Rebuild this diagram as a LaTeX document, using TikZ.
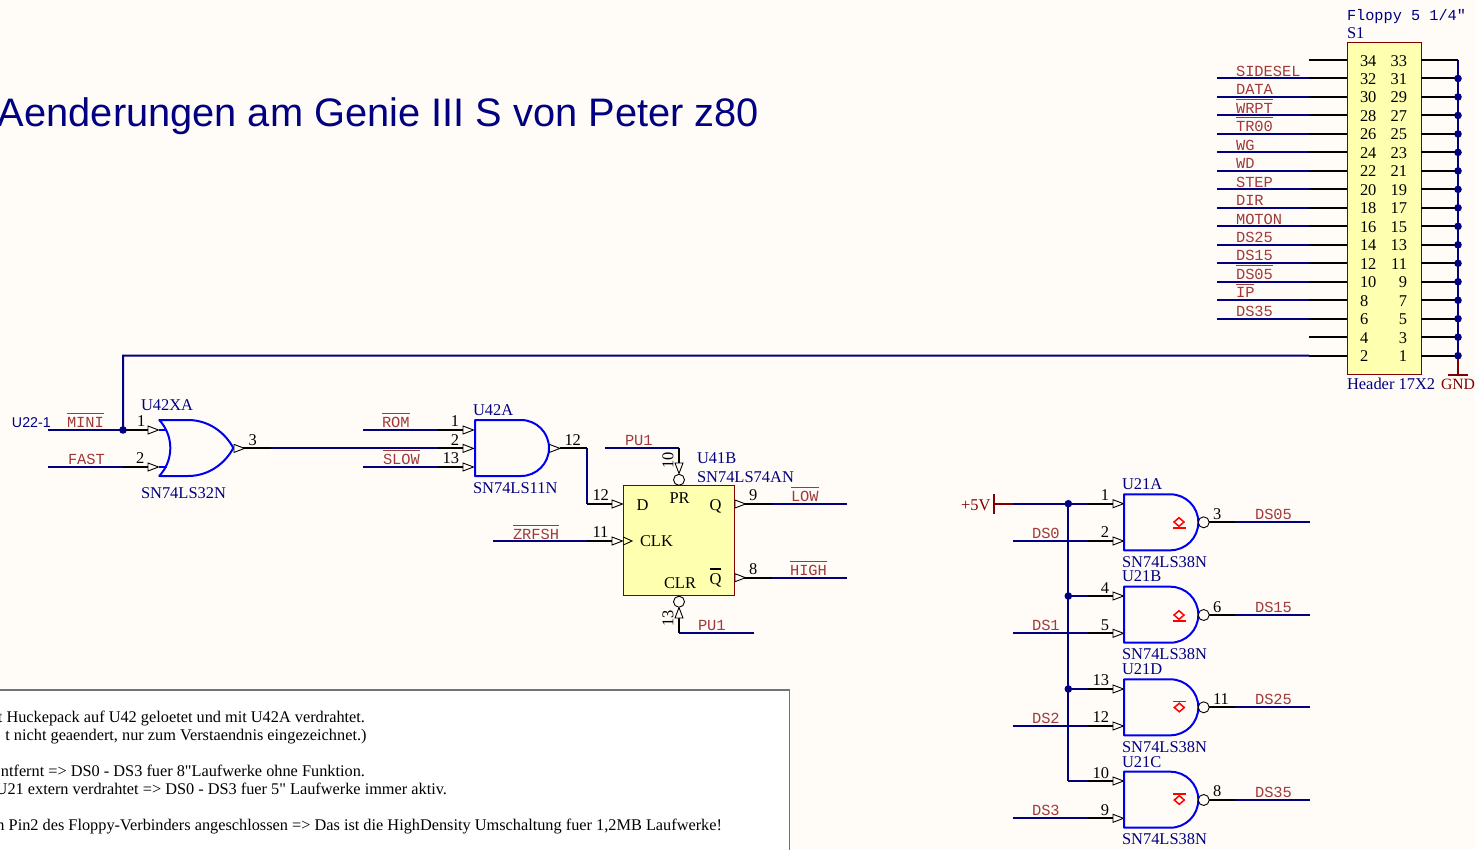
\documentclass[tikz,border=0pt]{standalone}
\usepackage{fontspec}
\setmainfont{Liberation Serif}[Ligatures=TeXOff]
\setsansfont{Liberation Sans}
\setmonofont{Liberation Mono}
\definecolor{bgc}{HTML}{FFFCF8}
\definecolor{wirec}{HTML}{000080}
\definecolor{gatec}{HTML}{0000F0}
\definecolor{netc}{HTML}{A03A3A}
\definecolor{pwrc}{HTML}{800000}
\definecolor{boxc}{HTML}{FFFFB0}
\newcommand\ovb[2][3]{\leavevmode\vbox{\hrule height 1.2pt\kern#1pt\hbox{#2}}}
\tikzset{
  wire/.style={draw=wirec,line width=2pt},
  pinline/.style={draw=black,line width=2pt},
  gateline/.style={draw=gatec,line width=2pt,line join=round},
  pwrline/.style={draw=pwrc,line width=2pt},
  tri/.style={draw=black,fill=bgc,line width=.9pt,line join=miter},
  dot/.style={fill=wirec},
  txt/.style={inner sep=0pt,outer sep=0pt,anchor=base west,font=\fontsize{16.45}{16}\selectfont},
  ser/.style={txt},
  serr/.style={txt,anchor=base east},
  cmp/.style={txt,text=wirec},
  net/.style={txt,text=netc,font=\fontsize{15.4}{15}\ttfamily},
  rotnum/.style={txt,anchor=center,rotate=90},
  comp/.style={draw=pwrc,fill=boxc,line width=.9pt,inner sep=0pt,rectangle},
  oc/.style={draw=red,line width=1.5pt},
  bubble/.style={draw=black,fill=bgc,line width=.9pt},
  note/.style={txt,anchor=base east,font=\fontsize{16.3}{16}\selectfont},
}
% navy net, black pin stub, triangle entering a symbol
\newcommand\netin[5]{%
  \coordinate (#1-a) at (#2,#5);\coordinate (#1-b) at (#3,#5);\coordinate (#1-c) at (#4,#5);
  \draw[wire] (#1-a) -- (#1-b);\draw[pinline] (#1-b) -- (#1-c);
  \draw[tri,shift={(#1-c)}] (0,-4) -- (10.5,0) -- (0,4) -- cycle;}
% triangle leaving a symbol, black pin stub, navy net
\newcommand\netout[5]{%
  \coordinate (#1-a) at (#2,#5);\coordinate (#1-b) at (#3,#5);\coordinate (#1-c) at (#4,#5);
  \draw[pinline] (#1-a) -- (#1-b);\draw[wire] (#1-b) -- (#1-c);
  \draw[tri,fill=bgc,shift={(#1-a)}] (0,-4) -- (10.5,0) -- (0,4) -- cycle;}
% AND outline: left, top, width
\newcommand\andg[3]{%
  \pgfmathsetmacro\xs{#1+#3-28}\pgfmathsetmacro\xr{#1+#3}\pgfmathsetmacro\xc{\xs+15.5}
  \pgfmathsetmacro\ym{#2+28}\pgfmathsetmacro\ya{#2+12.5}\pgfmathsetmacro\yb{#2+43.5}\pgfmathsetmacro\yc{#2+56}
  \draw[gateline] (\xs,#2) -- (#1,#2) -- (#1,\yc) -- (\xs,\yc) .. controls (\xc,\yc) and (\xr,\yb) .. (\xr,\ym) .. controls (\xr,\ya) and (\xc,#2) .. (\xs,#2) -- cycle;}
\newcommand\ocsym[3]{% x, diamond centre y, bar y
  \draw[oc] (#1-5,#2) -- (#1,#2-4.3) -- (#1+5,#2) -- (#1,#2+4.3) -- cycle;
  \draw[oc] (#1-6.5,#3) -- (#1+6.5,#3);}
\begin{document}
\begin{tikzpicture}[x=1pt,y=-1pt]
\useasboundingbox (0,0) rectangle (1475,849);
\clip (0,0) rectangle (1475,849);
\fill[bgc] (0,0) rectangle (1475,849);

% title
\node[txt,text=wirec,font=\fontsize{39.8}{40}\sffamily] (title) at (-2,126.5) {Aenderungen am Genie III S von Peter z80};

% note box
\node[draw=black!55,fill=white,line width=1.5pt,inner sep=0pt,minimum width=805,minimum height=180,anchor=north east] (notebox) at (790,689) {};
\node[note] (note1) at (365,722) {t Huckepack auf U42 geloetet und mit U42A verdrahtet.};
\node[note] (note2) at (366.5,740) {t nicht geaendert, nur zum Verstaendnis eingezeichnet.)};
\node[note] (note3) at (365,776) {ntfernt => DS0 - DS3 fuer 8"Laufwerke ohne Funktion.};
\node[note] (note4) at (447,794) {U21 extern verdrahtet => DS0 - DS3 fuer 5" Laufwerke immer aktiv.};
\node[note] (note5) at (722,830) {n Pin2 des Floppy-Verbinders angeschlossen => Das ist die HighDensity Umschaltung fuer 1,2MB Laufwerke!};

% ---------- header S1
\node[comp,minimum width=74,minimum height=332] (S1) at (1384,208) {};
\coordinate (gndtop) at (1458,60);
\coordinate (gndbus) at (1458,355.7);
\coordinate (gnd) at (1458,374.5);
\coordinate (gndl) at (1448,374.5);
\coordinate (gndr) at (1468,374.5);
\draw[wire] (gndtop) -- (gndbus);
\draw[pwrline] (gndbus) -- (gnd);
\draw[pwrline] (gndl) -- (gndr);
\foreach \k/\l/\r in {0/34/33,1/32/31,2/30/29,3/28/27,4/26/25,5/24/23,6/22/21,7/20/19,8/18/17,9/16/15,10/14/13,11/12/11,12/10/9,13/8/7,14/6/5,15/4/3,16/2/1}{
  \pgfmathsetmacro\yy{60+18.48*\k}
  \pgfmathsetmacro\yb{\yy+6}
  \coordinate (hl\k) at (1309,\yy);
  \coordinate (hs\k) at (1347,\yy);
  \coordinate (hr\k) at (1421,\yy);
  \coordinate (hb\k) at (1458,\yy);
  \draw[pinline] (hl\k) -- (hs\k);
  \draw[pinline] (hr\k) -- (hb\k);
  \node[ser] (pl\k) at (1360,\yb) {\l};
  \node[serr] (pr\k) at (1407,\yb) {\r};
  \ifnum\k>0 \fill[dot] (hb\k) circle[radius=3.8];\fi
}
\foreach \k/\t in {1/SIDESEL,2/DATA,3/\ovb{WRPT},4/\ovb{TR00},5/WG,6/WD,7/STEP,8/DIR,9/MOTON,10/DS25,11/DS15,12/\ovb{DS05},13/\ovb{IP},14/DS35}{
  \pgfmathsetmacro\yy{60+18.48*\k}
  \pgfmathsetmacro\yb{\yy-2.3}
  \coordinate (he\k) at (1217,\yy);
  \draw[wire] (he\k) -- (hl\k);
  \node[net] (hn\k) at (1236,\yb) {\t};
}
\node[txt,text=wirec,font=\fontsize{15.25}{15}\ttfamily] (floppy) at (1347,20.5) {Floppy 5 1/4"};
\node[cmp] (S1name) at (1347,38) {S1};
\node[cmp] (S1type) at (1347,389) {Header 17X2};
\node[txt,text=pwrc,font=\fontsize{15.7}{16}\selectfont] (gndname) at (1441,389) {GND};

% ---------- U42XA
\netin{mini}{48}{123}{148}{430}
\netin{fast}{48}{123}{148}{467}
\coordinate (minijoin) at (123,430);
\coordinate (minicorner) at (123,355.7);
\draw[wire] (minijoin) -- (minicorner) -- (hl16);
\fill[dot] (minijoin) circle[radius=3.8];
\draw[gateline] (158.5,430) -- (167,430);
\draw[gateline] (158.5,467) -- (167,467);
\draw[gateline] (159.3,420) -- (188,420) .. controls (210,420) and (226,434) .. (233.3,448) .. controls (226,462) and (210,476) .. (188,476) -- (159.3,476) .. controls (174,460) and (174,436) .. (159.3,420) -- cycle;
\node[txt,text=wirec,font=\fontsize{14.2}{15}\sffamily] (u22) at (12,427) {U22-1};
\node[net] (minil) at (67,427.5) {\ovb{MINI}};
\node[net] (fastl) at (68,464.5) {FAST};
\node[cmp] (u42xa) at (141,410) {U42XA};
\node[cmp] (u42xat) at (141,498) {SN74LS32N};
\node[ser] (n1a) at (137,426) {1};
\node[ser] (n2a) at (136,463) {2};
\node[ser] (n3a) at (248.5,445) {3};

% ---------- U42A
\netout{q42}{234}{271}{438}{448.4}
\coordinate (q42end) at (438,448.4);
\coordinate (u42in2) at (463,448.4);
\draw[pinline] (q42end) -- (u42in2);
\draw[tri,shift={(u42in2)}] (0,-4) -- (10.5,0) -- (0,4) -- cycle;
\netin{rom}{363}{438}{463}{430}
\netin{slow}{363}{438}{463}{467}
\andg{475}{420}{74}
\node[net] (roml) at (382,427) {\ovb{ROM}};
\node[net] (slowl) at (383,464) {\ovb{SLOW}};
\node[cmp] (u42a) at (473,415) {U42A};
\node[cmp] (u42at) at (473,493) {SN74LS11N};
\node[serr] (n1b) at (459,426) {1};
\node[serr] (n2b) at (459,445) {2};
\node[serr] (n13b) at (459,463) {13};
\node[ser] (n12b) at (564.5,445) {12};

% ---------- U41B flip-flop
\node[comp,minimum width=111,minimum height=110] (U41B) at (678.8,540.7) {};
\coordinate (o42a) at (560,448.4);
\coordinate (o42b) at (586.5,448.4);
\coordinate (d42a) at (586.5,504);
\coordinate (d42b) at (612,504);
\draw[wire] (o42b) -- (d42a);
\draw[pinline] (o42a) -- (o42b);
\draw[tri,shift={(549.5,448.4)}] (0,-4) -- (10.5,0) -- (0,4) -- cycle;
\draw[pinline] (d42a) -- (d42b);
\draw[tri,shift={(d42b)}] (0,-4) -- (10.5,0) -- (0,4) -- cycle;
\netin{zrfsh}{493}{587}{612}{541}
\draw[draw=black,line width=.9pt] (623.3,537) -- (632,541) -- (623.3,545);
\netout{low}{735}{771.5}{847}{504}
\netout{high}{735}{771.5}{847}{577.7}
% PU1 top
\coordinate (pu1a) at (605,448.3);
\coordinate (pu1b) at (679,448.3);
\coordinate (pu1c) at (679,463);
\draw[wire] (pu1a) -- (pu1b);
\draw[pinline] (pu1b) -- (pu1c);
\draw[tri,shift={(pu1c)}] (-4,0) -- (0,10.5) -- (4,0) -- cycle;
\draw[bubble] (679,479.8) circle[radius=5.5];
% PU1 bottom
\coordinate (pu2a) at (754,632.7);
\coordinate (pu2b) at (679,632.7);
\coordinate (pu2c) at (679,618);
\draw[wire] (pu2a) -- (pu2b);
\draw[pinline] (pu2b) -- (pu2c);
\draw[tri,shift={(pu2c)}] (-4,0) -- (0,-10.5) -- (4,0) -- cycle;
\draw[bubble] (679,601.7) circle[radius=5.5];
\node[net] (pu1l) at (625,445.5) {PU1};
\node[net] (pu2l) at (698,630) {PU1};
\node[net] (zrfshl) at (513,539) {\ovb{ZRFSH}};
\node[net] (lowl) at (791,501) {\ovb{LOW}};
\node[net] (highl) at (790,575) {\ovb{HIGH}};
\node[cmp] (u41b) at (697,463) {U41B};
\node[cmp] (u41bt) at (697,482) {SN74LS74AN};
\node[rotnum] (n10c) at (668,460.5) {10};
\node[rotnum] (n13c) at (668,618) {13};
\node[ser] (n12c) at (592.5,500) {12};
\node[ser] (n11c) at (592.5,537) {11};
\node[ser] (n9c) at (749,500) {9};
\node[ser] (n8c) at (749,574) {8};
\node[ser] (pinD) at (636.5,510) {D};
\node[ser] (pinPR) at (669.5,503) {PR};
\node[ser] (pinQ) at (709.5,510) {Q};
\node[ser] (pinCLK) at (640,546.5) {CLK};
\node[ser] (pinCLR) at (664,588.5) {CLR};
\node[ser] (pinQb) at (709.5,584) {\ovb[3.5]{Q}};

% ---------- U21 supply
\coordinate (vbar1) at (994.3,494);
\coordinate (vbar2) at (994.3,514);
\coordinate (vp) at (994.3,503.7);
\coordinate (vw) at (1013,503.7);
\coordinate (busT) at (1068.3,503.7);
\coordinate (busB) at (1068.3,781);
\coordinate (busD) at (1068.3,689);
\coordinate (busC) at (1068.3,596);
\draw[pwrline] (vbar1) -- (vbar2);
\draw[pwrline] (vp) -- (vw);
\draw[wire] (busT) -- (busB);
\netin{ua1}{1013}{1088}{1113}{503.7}
\netin{ua2}{1013}{1088}{1113}{541}
\netin{ub1}{1068.3}{1088}{1113}{596}
\netin{ub2}{1013}{1088}{1113}{633.3}
\netin{ud1}{1068.3}{1088}{1113}{689}
\netin{ud2}{1013}{1088}{1113}{726}
\netin{uc1}{1068.3}{1088}{1113}{781}
\netin{uc2}{1013}{1088}{1113}{818.3}
\fill[dot] (busT) circle[radius=3.8];
\fill[dot] (busC) circle[radius=3.8];
\fill[dot] (busD) circle[radius=3.8];
\node[txt,text=pwrc] (vcc) at (961,510) {+5V};

% gates
\andg{1124}{494.3}{74.3}
\andg{1124}{586.7}{74.3}
\andg{1124}{679.3}{74.3}
\andg{1124}{771.7}{74.3}
\ocsym{1179}{522}{528}
\ocsym{1179}{615}{621}
\ocsym{1179.3}{707.5}{701.7}
\ocsym{1179.3}{800}{794.2}
\foreach \nm/\yy in {oa/522.3,ob/615,od/707.3,oc/800}{
  \coordinate (\nm-a) at (1209,\yy);
  \coordinate (\nm-b) at (1235,\yy);
  \coordinate (\nm-c) at (1310,\yy);
  \draw[pinline] (\nm-a) -- (\nm-b);
  \draw[wire] (\nm-b) -- (\nm-c);
  \draw[bubble] (1203.7,\yy) circle[radius=5.5];
}
\node[cmp] (u21a) at (1122,489) {U21A};
\node[cmp] (u21at) at (1122,567) {SN74LS38N};
\node[cmp] (u21b) at (1122,581.5) {U21B};
\node[cmp] (u21bt) at (1122,659) {SN74LS38N};
\node[cmp] (u21d) at (1122,674) {U21D};
\node[cmp] (u21dt) at (1122,752) {SN74LS38N};
\node[cmp] (u21c) at (1122,767) {U21C};
\node[cmp] (u21ct) at (1122,844) {SN74LS38N};
\node[serr] (m1) at (1109,500) {1};
\node[serr] (m2) at (1109,537) {2};
\node[serr] (m4) at (1109,593) {4};
\node[serr] (m5) at (1109,630) {5};
\node[serr] (m13) at (1109,685) {13};
\node[serr] (m12) at (1109,722) {12};
\node[serr] (m10) at (1109,778) {10};
\node[serr] (m9) at (1109,815) {9};
\node[ser] (m3) at (1213,519) {3};
\node[ser] (m6) at (1213,612) {6};
\node[ser] (m11) at (1213,704) {11};
\node[ser] (m8) at (1213,796) {8};
\node[net] (ds05) at (1255,519.5) {DS05};
\node[net] (ds15) at (1255,612) {DS15};
\node[net] (ds25) at (1255,704.5) {DS25};
\node[net] (ds35) at (1255,797) {DS35};
\node[net] (ds0) at (1032,538.5) {DS0};
\node[net] (ds1) at (1032,630.5) {DS1};
\node[net] (ds2) at (1032,723.5) {DS2};
\node[net] (ds3) at (1032,815.5) {DS3};
\end{tikzpicture}
\end{document}
